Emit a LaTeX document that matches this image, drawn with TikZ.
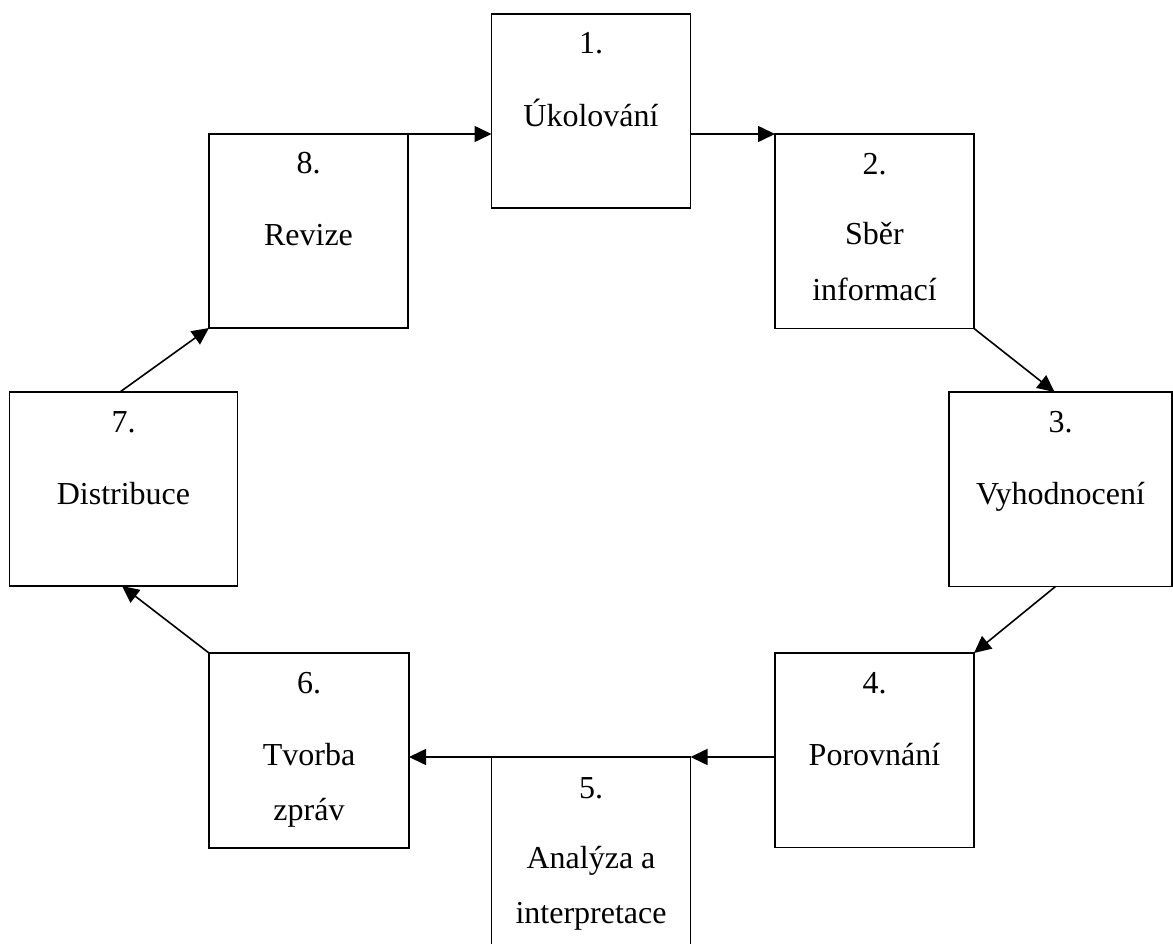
\documentclass[tikz,border=0pt]{standalone}
\usepackage{fontspec}
\setmainfont{Liberation Serif}
\usetikzlibrary{arrows.meta,calc}
\begin{document}
\begin{tikzpicture}[x=1pt,y=-1pt,
  box/.style={draw,line width=1.6pt,rectangle,inner sep=0pt,outer sep=0pt,anchor=north west},
  lbl/.style={anchor=base,inner sep=0pt,font=\fontsize{32}{38}\selectfont},
  arr/.style={line width=1.6pt,-{Triangle[length=17pt,width=16pt]}}]
\useasboundingbox (0,0) rectangle (1173,944);
\clip (0,0) rectangle (1173,944);
% boxes
\node[box,minimum width=199pt,minimum height=194pt] (b1) at (491.5,14) {};
\node[box,minimum width=199pt,minimum height=194.5pt] (b2) at (775,134) {};
\node[box,minimum width=223pt,minimum height=194.5pt] (b3) at (949,392) {};
\node[box,minimum width=199pt,minimum height=194.5pt] (b4) at (775,653) {};
\node[box,minimum width=199pt,minimum height=250pt] (b5) at (491.5,757) {};
\node[box,minimum width=200pt,minimum height=195pt] (b6) at (209,653) {};
\node[box,minimum width=228pt,minimum height=194pt] (b7) at (9.5,392) {};
\node[box,minimum width=199pt,minimum height=194pt] (b8) at (209,134) {};
% labels
\node[lbl] (t1a) at ($(b1.north)+(0,40)$) {1.};
\node[lbl] (t1b) at ($(b1.north)+(0,112.5)$) {Úkolování};
\node[lbl] (t2a) at ($(b2.north)+(0,41)$) {2.};
\node[lbl] (t2b) at ($(b2.north)+(0,111)$) {Sběr};
\node[lbl] (t2c) at ($(b2.north)+(0,166)$) {informací};
\node[lbl] (t3a) at ($(b3.north)+(0,40)$) {3.};
\node[lbl] (t3b) at ($(b3.north)+(0,112)$) {Vyhodnocení};
\node[lbl] (t4a) at ($(b4.north)+(0,40)$) {4.};
\node[lbl] (t4b) at ($(b4.north)+(0,112)$) {Porovnání};
\node[lbl] (t5a) at ($(b5.north)+(0,41)$) {5.};
\node[lbl] (t5b) at ($(b5.north)+(0,111)$) {Analýza a};
\node[lbl] (t5c) at ($(b5.north)+(0,166)$) {interpretace};
\node[lbl] (t6a) at ($(b6.north)+(0,40)$) {6.};
\node[lbl] (t6b) at ($(b6.north)+(0,112)$) {Tvorba};
\node[lbl] (t6c) at ($(b6.north)+(0,167)$) {zpráv};
\node[lbl] (t7a) at ($(b7.north)+(0,40)$) {7.};
\node[lbl] (t7b) at ($(b7.north)+(0,112)$) {Distribuce};
\node[lbl] (t8a) at ($(b8.north)+(0,40)$) {8.};
\node[lbl] (t8b) at ($(b8.north)+(0,112)$) {Revize};
% connectors
\draw[arr] (b8.north east) -- (b8.north east -| b1.west);
\draw[arr] (b1.east |- b2.north west) -- (b2.north west);
\draw[arr] (b2.south east) -- ($(b3.north)+(-6,0)$);
\draw[arr] ($(b3.south)+(-5,0)$) -- (b4.north east);
\draw[arr] (b4.west |- b5.north east) -- (b5.north east);
\draw[arr] (b5.north west) -- (b5.north west -| b6.east);
\draw[arr] (b6.north west) -- ($(b7.south)+(-1.5,0)$);
\draw[arr] ($(b7.north)+(-3.5,0)$) -- (b8.south west);
\end{tikzpicture}
\end{document}
